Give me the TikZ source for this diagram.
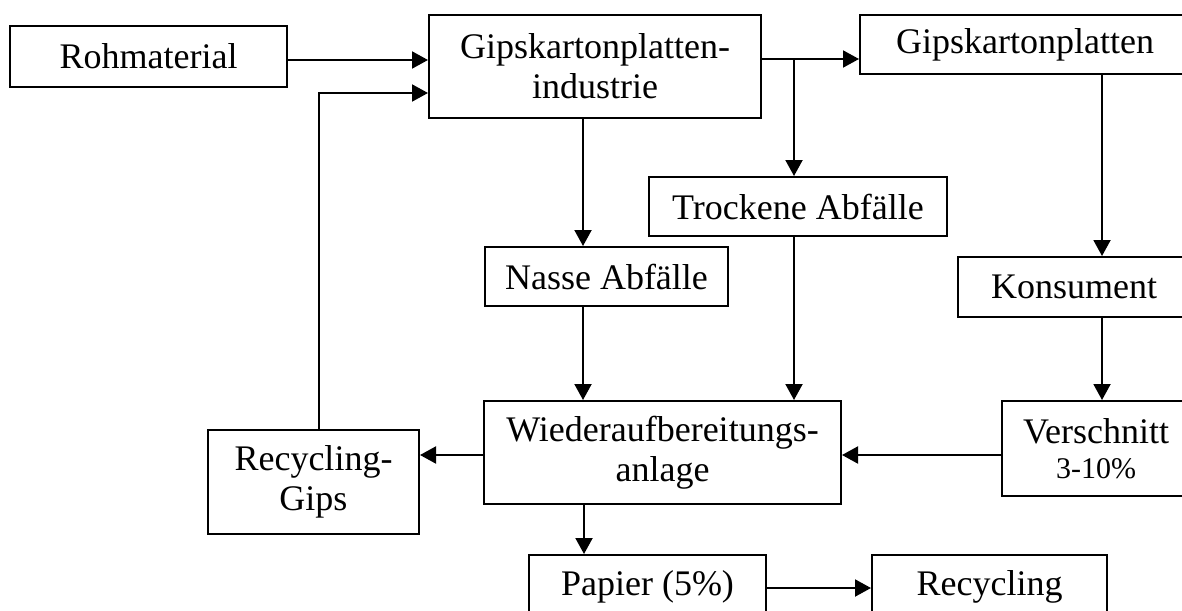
\documentclass[tikz,border=0pt]{standalone}
\usepackage{fontspec}
\setmainfont{Liberation Serif}
\usetikzlibrary{arrows.meta}
\tikzset{
  box/.style={draw, line width=2pt, inner sep=0pt, align=center,
    font=\fontsize{36}{40}\selectfont},
  arr/.style={line width=2pt, -{Triangle[length=16pt,width=17pt]}},
  ln/.style={line width=2pt}
}
\begin{document}
\begin{tikzpicture}[x=1pt,y=-1pt]
\useasboundingbox (0,0) rectangle (1182,610);
\clip (0,0) rectangle (1182,610);
\fill[white] (0,0) rectangle (1182,610);
\node[box, minimum width=277pt, minimum height=61pt] (roh) at (148.5,56.5) {Rohmaterial};
\node[box, minimum width=332pt, minimum height=103pt] (gips) at (595,66.5) {Gipskartonplatten-\\industrie};
\node[box, minimum width=330pt, minimum height=59pt] (gkp) at (1025,44.5) {Gipskartonplatten};
\node[box, minimum width=298pt, minimum height=59pt] (trock) at (798,206.5) {Trockene Abfälle};
\node[box, minimum width=243pt, minimum height=59pt] (nasse) at (606.5,276.5) {Nasse Abfälle};
\node[box, minimum width=232pt, minimum height=60pt] (kons) at (1074,287) {Konsument};
\node[box, minimum width=188pt, minimum height=95pt] (vers) at (1096,448.5) {Verschnitt\\[-5pt]{\fontsize{30}{33}\selectfont 3-10\%}};
\node[box, minimum width=357pt, minimum height=103pt] (wied) at (662.5,452.5) {Wiederaufbereitungs-\\anlage};
\node[box, minimum width=211pt, minimum height=104pt] (rgips) at (313.5,482) {Recycling-\\Gips};
\node[box, minimum width=237pt, minimum height=64pt] (pap) at (647.5,587) {Papier (5\%)};
\node[box, minimum width=235pt, minimum height=64pt] (rec) at (989.5,587) {Recycling};
% helper coordinates
\coordinate (y60) at (0,60);
\coordinate (y93) at (0,93);
\coordinate (y59) at (0,59);
\coordinate (x583) at (583,0);
\coordinate (x584) at (584,0);
\coordinate (x794) at (794,0);
\coordinate (x1102) at (1102,0);
\coordinate (x319) at (319,0);
\coordinate (y455) at (0,455);
\coordinate (y588) at (0,588);
\coordinate (branch) at (794,59);
% connectors
\draw[arr] (roh.east |- y60) -- (gips.west |- y60);
\draw[arr] (rgips.north -| x319) -- (x319 |- y93) -- (gips.west |- y93);
\draw[arr] (gips.east |- y59) -- (gkp.west |- y59);
\draw[arr] (branch) -- (trock.north -| x794);
\draw[arr] (gips.south -| x583) -- (nasse.north -| x583);
\draw[arr] (gkp.south -| x1102) -- (kons.north -| x1102);
\draw[arr] (kons.south -| x1102) -- (vers.north -| x1102);
\draw[arr] (vers.west |- y455) -- (wied.east |- y455);
\draw[arr] (wied.west |- y455) -- (rgips.east |- y455);
\draw[arr] (nasse.south -| x583) -- (wied.north -| x583);
\draw[arr] (trock.south -| x794) -- (wied.north -| x794);
\draw[arr] (wied.south -| x584) -- (pap.north -| x584);
\draw[arr] (pap.east |- y588) -- (rec.west |- y588);
\end{tikzpicture}
\end{document}
